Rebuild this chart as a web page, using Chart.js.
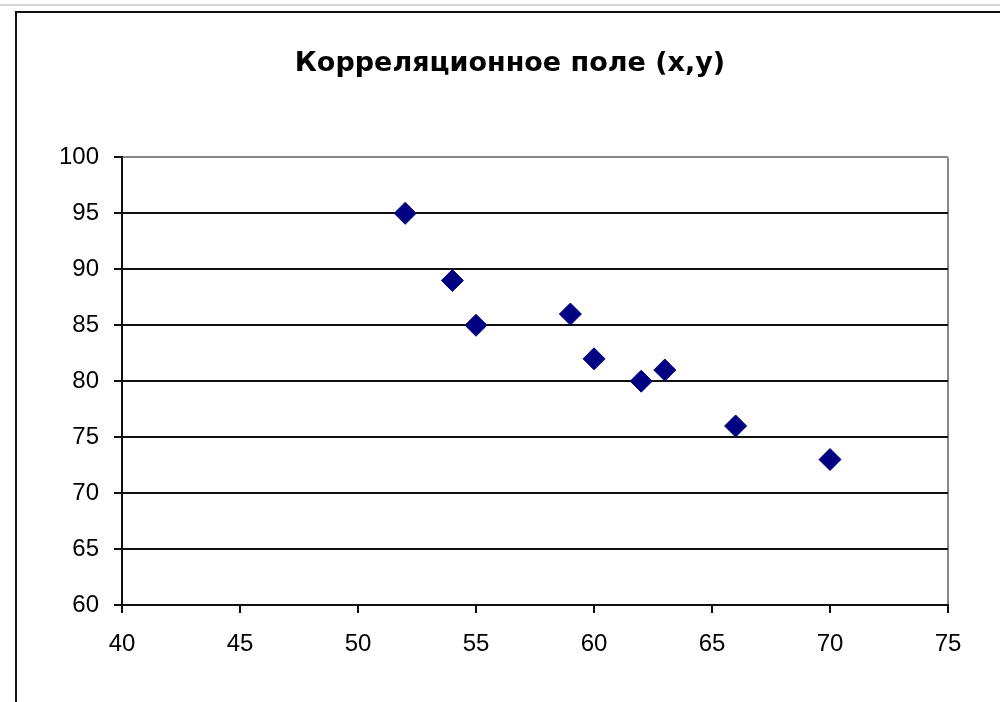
<!DOCTYPE html>
<html>
<head>
<meta charset="utf-8">
<script src="https://cdn.jsdelivr.net/npm/chart.js@4"></script>
<style>
    html, body { margin: 0; padding: 0; background: #fff; overflow: hidden; }
    #sheet { position: absolute; left: 0; top: 0; width: 1000px; height: 702px; overflow: hidden; }
    #rowline { position: absolute; left: 0; top: 4px; width: 1000px; height: 2px; background: #d8d8d8; }
    #frame { position: absolute; left: 15px; top: 11px; width: 1000px; height: 700px;
             border-left: 2px solid #111; border-top: 2px solid #111; }
    canvas { position: absolute; left: 0; top: 0; }
</style>
</head>
<body>
<div id="sheet">
    <div id="rowline"></div>
    <div id="frame"></div>
    <canvas id="graph" width="1020" height="702"></canvas>
</div>
<script>
// данные корреляционного поля
const xValues = [52, 54, 55, 59, 60, 62, 63, 66, 70];
const yValues = [95, 89, 85, 86, 82, 80, 81, 76, 73];
const chartTitle = 'Корреляционное поле (x,y)';
const xMin = 40, xMax = 75, xStep = 5;
const yMin = 60, yMax = 100, yStep = 5;

let points = xValues.map((x, i) => ({ x: x, y: yValues[i] }));

const graph = document.getElementById("graph");
let chart = new Chart(graph, {
    type: 'scatter',
    data: {
        datasets: [{
            label: 'y',
            data: points,
            pointStyle: 'rectRot',
            pointRadius: 11,
            pointHoverRadius: 11,
            backgroundColor: '#000080',
            borderColor: '#000080',
            borderWidth: 1
        }]
    },
    options: {
        responsive: false,
        animation: false,
        layout: { padding: 0 },
        plugins: {
            legend: { display: false },
            tooltip: { enabled: false },
            title: {
                display: true,
                text: chartTitle,
                color: '#000',
                font: { family: 'DejaVu Sans', size: 27, weight: 'bold' },
                padding: { top: 48, bottom: 77 }
            }
        },
        scales: {
            x: {
                type: 'linear',
                min: xMin,
                max: xMax,
                ticks: {
                    stepSize: xStep,
                    color: '#000',
                    padding: 17,
                    font: { family: 'Liberation Sans, Arial', size: 24 }
                },
                grid: {
                    drawOnChartArea: true,
                    color: ctx => (ctx.tick && ctx.tick.value === xMax) ? '#888' : 'rgba(0,0,0,0)',
                    lineWidth: 2,
                    tickColor: '#111',
                    tickLength: 8
                },
                border: { color: '#111', width: 2 },
                afterFit: function (scale) { scale.height = 702 - 605; }
            },
            y: {
                type: 'linear',
                min: yMin,
                max: yMax,
                ticks: {
                    stepSize: yStep,
                    color: '#000',
                    padding: 15,
                    font: { family: 'Liberation Sans, Arial', size: 24 }
                },
                grid: {
                    color: ctx => (ctx.tick && ctx.tick.value === yMax) ? '#888' : '#111',
                    lineWidth: 2,
                    tickColor: '#111',
                    tickLength: 8
                },
                border: { color: '#111', width: 2 },
                afterFit: function (scale) { scale.width = 122; }
            },
            // пустая ось справа: держит правый край области и центр заголовка
            yRight: {
                position: 'right',
                display: true,
                ticks: { display: false },
                grid: { display: false },
                border: { display: false },
                afterFit: function (scale) { scale.width = 1020 - 948; }
            }
        }
    }
});
</script>
</body>
</html>
